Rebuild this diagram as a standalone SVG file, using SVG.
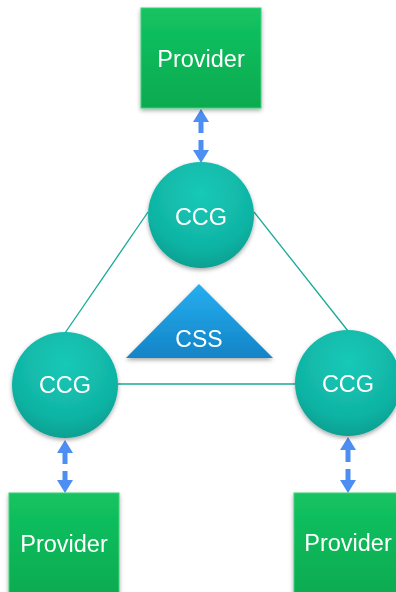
<svg xmlns="http://www.w3.org/2000/svg" width="396" height="592" viewBox="0 0 396 592">
<style>
.lbl{font-family:"Liberation Sans",Arial,sans-serif;font-size:23.5px;fill:#ffffff;text-anchor:middle}
.link{stroke:#17a899;stroke-width:1.3;fill:none}
.arr{fill:#4d8ef3}
.prov{fill:url(#gG);stroke:#3fd27a;stroke-width:1}
.ccg{fill:url(#gT)}
</style>
<defs>
<linearGradient id="gG" x1="0" y1="0" x2="0" y2="1"><stop offset="0" stop-color="#13c462"/><stop offset="1" stop-color="#0aaa50"/></linearGradient>
<radialGradient id="gT" cx="0.5" cy="0.3" r="0.75"><stop offset="0" stop-color="#16c9b8"/><stop offset="0.7" stop-color="#10b3a3"/><stop offset="1" stop-color="#0b9a8d"/></radialGradient>
<linearGradient id="gB" x1="0" y1="0" x2="0" y2="1"><stop offset="0" stop-color="#27aef0"/><stop offset="1" stop-color="#1284c6"/></linearGradient>
<filter id="sh" x="-20%" y="-20%" width="140%" height="150%"><feDropShadow dx="0" dy="2" stdDeviation="2" flood-color="#000" flood-opacity="0.35"/></filter>
</defs>
<g id="connectors">
<line class="link" x1="148" y1="212" x2="65" y2="333"/>
<line class="link" x1="254" y1="212" x2="348" y2="331"/>
<line class="link" x1="118" y1="384" x2="295" y2="384"/>
<path class="arr" d="M201,109 L209,122 L203.5,122 L203.5,133 L198.5,133 L198.5,122 L193,122 Z M198.5,140 L203.5,140 L203.5,150 L209,150 L201,163 L193,150 L198.5,150 Z"/>
<path class="arr" d="M65,440 L73,453 L67.5,453 L67.5,464 L62.5,464 L62.5,453 L57,453 Z M62.5,471 L67.5,471 L67.5,480 L73,480 L65,493 L57,480 L62.5,480 Z"/>
<path class="arr" d="M348,437 L356,450 L350.5,450 L350.5,462 L345.5,462 L345.5,450 L340,450 Z M345.5,469 L350.5,469 L350.5,480 L356,480 L348,493 L340,480 L345.5,480 Z"/>
</g>
<g id="provider-top" filter="url(#sh)">
<rect class="prov" x="141" y="8" width="120" height="100"/>
<text class="lbl" x="201" y="67">Provider</text>
</g>
<g id="ccg-top" filter="url(#sh)">
<circle class="ccg" cx="201" cy="215" r="53"/>
<text class="lbl" x="201" y="225">CCG</text>
</g>
<g id="css" filter="url(#sh)">
<polygon points="199,284 126,358 273,358" fill="url(#gB)"/>
<text class="lbl" x="199" y="347" style="font-size:23px">CSS</text>
</g>
<g id="ccg-left" filter="url(#sh)">
<circle class="ccg" cx="65" cy="385" r="53"/>
<text class="lbl" x="65" y="393">CCG</text>
</g>
<g id="ccg-right" filter="url(#sh)">
<circle class="ccg" cx="348" cy="383" r="53"/>
<text class="lbl" x="348" y="392">CCG</text>
</g>
<g id="provider-left" filter="url(#sh)">
<rect class="prov" x="9" y="493" width="110" height="105"/>
<text class="lbl" x="64" y="552">Provider</text>
</g>
<g id="provider-right" filter="url(#sh)">
<rect class="prov" x="294" y="493" width="110" height="105"/>
<text class="lbl" x="348" y="551">Provider</text>
</g>
</svg>
